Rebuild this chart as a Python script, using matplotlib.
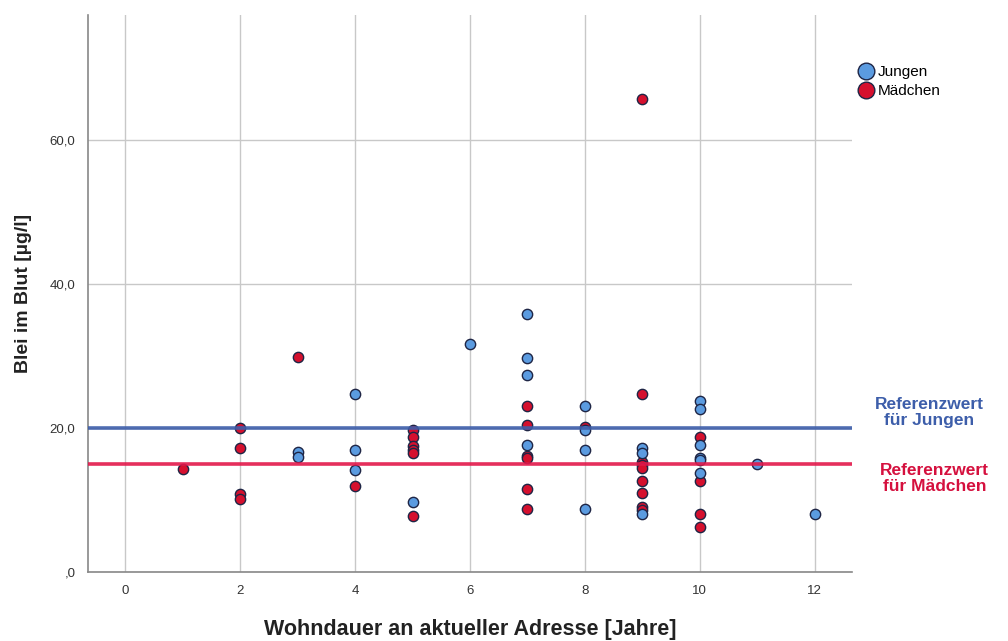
import matplotlib
matplotlib.use("Agg")
import matplotlib.pyplot as plt
from matplotlib.lines import Line2D

plt.rcParams['font.family'] = ['Liberation Sans', 'DejaVu Sans']

# Jungen (blau)
jungen_x = [3, 3, 4, 4, 4, 5, 6, 7, 7, 7, 7, 8, 8, 8, 8,
            9, 9, 9, 10, 10, 10, 10, 10, 10, 11, 12]
jungen_y = [16.7, 16.0, 24.7, 16.9, 14.2, 9.7, 31.7, 35.8, 29.8, 27.4, 17.6, 23.1, 19.8, 17.0, 8.8,
            17.2, 16.5, 8.1, 23.8, 22.7, 17.7, 15.8, 15.5, 13.7, 15.0, 8.1]

# Mädchen (rot)
maedchen_x = [1, 2, 2, 2, 2, 3, 4, 5, 5, 5, 5, 5, 5,
              7, 7, 7, 7, 7, 7, 9, 9, 9, 9, 9, 9, 9, 9, 9,
              10, 10, 10, 10, 8]
maedchen_y = [14.3, 20.0, 17.3, 10.8, 10.2, 29.9, 11.9, 19.8, 18.8, 17.5, 16.9, 16.5, 7.8,
              23.1, 20.4, 16.1, 15.8, 11.5, 8.8, 65.7, 24.7, 15.3, 14.9, 14.4, 12.7, 11.0, 9.0, 8.6,
              18.8, 12.6, 8.1, 6.3, 20.1]

ref_jungen = 20.0
ref_maedchen = 15.0

blau = '#5b9be0'
rot = '#d5102e'
kante = '#1e2545'

fig = plt.figure(figsize=(10.08, 6.41), dpi=100)
ax = fig.add_axes([0.0873, 0.1076, 0.7579, 0.869])

ax.scatter(maedchen_x, maedchen_y, s=55, color=rot, edgecolor=kante, linewidth=1.0, zorder=3)
ax.scatter(jungen_x, jungen_y, s=55, color=blau, edgecolor=kante, linewidth=1.0, zorder=3)

ax.axhline(ref_jungen, color='#3d5eaa', lw=2.6, alpha=0.9, zorder=4)
ax.axhline(ref_maedchen, color='#e3184a', lw=2.6, alpha=0.9, zorder=4)

ax.set_xlim(-0.65, 12.65)
ax.set_ylim(0, 77.4)
ax.set_xticks([0, 2, 4, 6, 8, 10, 12])
ax.set_yticks([0, 20, 40, 60])
ax.set_yticklabels([',0', '20,0', '40,0', '60,0'])
ax.tick_params(length=0, labelsize=9.5, colors='#333333', pad=9)
ax.grid(True, color='#c8c8c8', lw=1.0)
ax.set_axisbelow(True)
for s in ['top', 'right']:
    ax.spines[s].set_visible(False)
for s in ['left', 'bottom']:
    ax.spines[s].set_color('#888888')
    ax.spines[s].set_linewidth(1.2)

ax.set_xlabel('Wohndauer an aktueller Adresse [Jahre]', fontsize=15.5, fontweight='bold',
              color='#222222', labelpad=16)
ax.set_ylabel('Blei im Blut [µg/l]', fontsize=14, fontweight='bold', color='#222222', labelpad=13)

fig.text(0.922, 0.356, 'Referenzwert\nfür Jungen', color='#3d5eaa', fontsize=12.5,
         fontweight='bold', ha='center', va='center', linespacing=1.1)
fig.text(0.927, 0.253, 'Referenzwert\nfür Mädchen', color='#d5103e', fontsize=12.5,
         fontweight='bold', ha='center', va='center', linespacing=1.1)

handles = [Line2D([], [], marker='o', ls='', markersize=12, markerfacecolor=blau,
                  markeredgecolor=kante, label='Jungen'),
           Line2D([], [], marker='o', ls='', markersize=12, markerfacecolor=rot,
                  markeredgecolor=kante, label='Mädchen')]
fig.legend(handles=handles, loc='upper left', bbox_to_anchor=(0.836, 0.92), frameon=False,
           fontsize=11, handletextpad=0.2, labelspacing=0.35, handlelength=1.2)

fig.savefig('out.png', dpi=100)
